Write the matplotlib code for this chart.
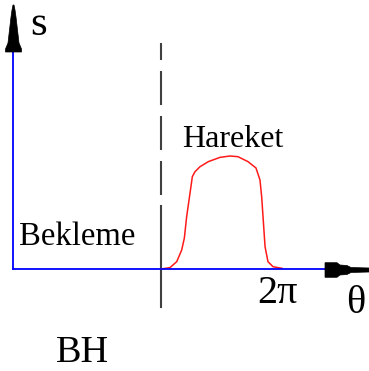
import numpy as np
import matplotlib.pyplot as plt
from matplotlib.transforms import Affine2D
from matplotlib.patches import Polygon

plt.rcParams['font.family'] = ['Liberation Serif', 'DejaVu Serif']
plt.rcParams['lines.scale_dashes'] = False

# follower displacement over one cam turn (theta as a fraction of 2*pi, s normalised to the lift)
theta_frac = [0.0, 0.074, 0.13, 0.171, 0.193, 0.212, 0.24, 0.259, 0.281, 0.322, 0.391, 0.488,
              0.57, 0.636, 0.719, 0.785, 0.818, 0.832, 0.845, 0.86, 0.884, 0.926, 1.0]
s_vals = [0.0, 0.012, 0.065, 0.168, 0.274, 0.463, 0.673, 0.817, 0.861, 0.905, 0.95, 0.988,
          1.0, 0.994, 0.95, 0.894, 0.788, 0.64, 0.434, 0.197, 0.065, 0.02, 0.006]

move_label = "Hareket"
dwell_label = "Bekleme"
period_label = "2\u03c0"
x_label = "\u03b8"
y_label = "s"
caption = "BH"

W, H = 369, 371
fig = plt.figure(figsize=(W / 100, H / 100), dpi=100)
ax = fig.add_axes([0, 0, 1, 1])
ax.set_axis_off()

# pixel position of theta=0, s=0 and pixels per unit
x0, y0 = 161, 269
kx, ky = 121 / (2 * np.pi), 113
ax.set_xlim(-x0 / kx, (W - x0) / kx)
ax.set_ylim(-(H - y0) / ky, y0 / ky)

# pixel coords (y down) for the drawing furniture
pix = Affine2D().scale(1 / W, -1 / H).translate(0, 1) + fig.transFigure

theta = np.array(theta_frac) * 2 * np.pi
ax.plot(theta, s_vals, color='#ff1a1a', lw=1.1, zorder=2)

# axes
ax.plot([13, 13], [269, 52], transform=pix, color='#0000ff', lw=1.3, zorder=3)
ax.plot([13, 326], [269, 269], transform=pix, color='#0000ff', lw=1.3, zorder=3)

# theta = 0 marker: dashed above, solid through the origin
ax.plot([161, 161], [206, 43], transform=pix, color='#404040', lw=1.5,
        linestyle=(24.5, (24.5, 7.9)), zorder=1)
ax.plot([161, 161], [206, 307], transform=pix, color='#404040', lw=1.5, zorder=1)


def arrow_head(x, y, dx, dy, dist, half):
    dist, half = np.array(dist), np.array(half)
    nx, ny = -dy, dx
    left = np.column_stack([x + dx * dist + nx * half, y + dy * dist + ny * half])
    right = np.column_stack([x + dx * dist - nx * half, y + dy * dist - ny * half])
    pts = np.vstack([left, right[::-1]])
    ax.add_patch(Polygon(pts, closed=True, transform=pix, facecolor='black',
                         edgecolor='black', lw=0.5, zorder=4))


arrow_head(13.5, 52, 0, -1, [0, 3, 9, 22, 35, 42, 47], [8, 8, 5.5, 4, 2.5, 1.5, 0.5])
arrow_head(325, 270, 1, 0, [0, 12, 15, 22, 26, 44], [7.3, 7.3, 5, 4.5, 2.5, 2])

txt = dict(transform=pix, ha='left', va='baseline', color='black')
ax.text(30, 35, y_label, fontsize=31, **txt)
ax.text(182, 147, move_label, fontsize=23, **txt)
ax.text(19, 245, dwell_label, fontsize=23.5, **txt)
ax.text(257, 303, period_label, fontsize=29, **txt)
ax.text(346, 313, x_label, fontsize=29, **txt)
ax.text(56, 362, caption, fontsize=27.5, **txt)

fig.savefig('out.png', dpi=100)
